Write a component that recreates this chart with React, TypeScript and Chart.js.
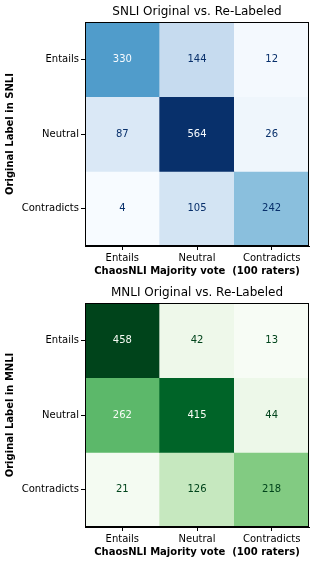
import React, { useEffect, useRef } from 'react';
import { Chart, registerables } from 'chart.js';

Chart.register(...registerables);

const predictedLabels = ['Entails', 'Neutral', 'Contradicts'];
const originalLabels = ['Entails', 'Neutral', 'Contradicts'];

const snliEntails = [330, 144, 12];
const snliNeutral = [87, 564, 26];
const snliContradicts = [4, 105, 242];

const mnliEntails = [458, 42, 13];
const mnliNeutral = [262, 415, 44];
const mnliContradicts = [21, 126, 218];

const bluesStops = ['#f7fbff', '#deebf7', '#c6dbef', '#9ecae1', '#6baed6', '#4292c6', '#2171b5', '#08519c', '#08306b'];
const greensStops = ['#f7fcf5', '#e5f5e0', '#c7e9c0', '#a1d99b', '#74c476', '#41ab5d', '#238b45', '#006d2c', '#00441b'];

const FONT = "'DejaVu Sans', sans-serif";

function hexToRgb(h: string) {
  const n = parseInt(h.slice(1), 16);
  return [(n >> 16) & 255, (n >> 8) & 255, n & 255];
}

function cmap(stops: string[], t: number) {
  const tt = Math.max(0, Math.min(1, t)) * (stops.length - 1);
  const i = Math.min(stops.length - 2, Math.floor(tt));
  const f = tt - i;
  const a = hexToRgb(stops[i]);
  const b = hexToRgb(stops[i + 1]);
  const c = a.map((v, k) => Math.round(v + (b[k] - v) * f));
  return `rgb(${c[0]},${c[1]},${c[2]})`;
}

type MatrixProps = {
  rows: number[][];
  title: string;
  yTitle: string;
  stops: string[];
  height: number;
  padBottom: number;
};

function Matrix({ rows, title, yTitle, stops, height, padBottom }: MatrixProps) {
  const ref = useRef<HTMLCanvasElement | null>(null);

  useEffect(() => {
    if (!ref.current) return;
    const all = rows.flat();
    const vmin = Math.min(...all);
    const vmax = Math.max(...all);
    const norm = (v: number) => (v - vmin) / (vmax - vmin);
    const thresh = (vmax + vmin) / 2;

    const datasets = rows.map((row, i) => ({
      label: originalLabels[i],
      data: row.map(() => [i, i + 1] as [number, number]),
      values: row,
      backgroundColor: row.map((v) => cmap(stops, norm(v))),
      borderWidth: 0,
      barPercentage: 1,
      categoryPercentage: 1,
      grouped: false,
    }));

    const cellText = {
      id: 'cellText',
      afterDatasetsDraw(chart: any) {
        const ctx = chart.ctx;
        ctx.save();
        ctx.font = `10px ${FONT}`;
        ctx.textAlign = 'center';
        ctx.textBaseline = 'middle';
        chart.data.datasets.forEach((ds: any, i: number) => {
          const meta = chart.getDatasetMeta(i);
          meta.data.forEach((el: any, j: number) => {
            const v = ds.values[j];
            const p = el.getCenterPoint();
            ctx.fillStyle = v > thresh ? stops[0] : stops[stops.length - 1];
            ctx.fillText(String(v), p.x, p.y);
          });
        });
        const a = chart.chartArea;
        ctx.strokeStyle = '#000';
        ctx.lineWidth = 1;
        ctx.strokeRect(Math.round(a.left) + 0.5, Math.round(a.top) + 0.5, Math.round(a.right - a.left) - 1, Math.round(a.bottom - a.top) - 1);
        ctx.restore();
      },
    };

    const chart = new Chart(ref.current, {
      type: 'bar',
      data: { labels: predictedLabels, datasets: datasets as any },
      options: {
        animation: false,
        responsive: false,
        maintainAspectRatio: false,
        layout: { padding: { left: 0, right: 6, top: 0, bottom: padBottom } },
        plugins: {
          legend: { display: false },
          tooltip: { enabled: false },
          title: { display: false },
        },
        scales: {
          top: {
            type: 'category',
            position: 'top',
            offset: true,
            afterFit: (s: any) => {
              s.height = 22;
            },
            grid: { display: false, drawTicks: false },
            border: { display: false },
            ticks: { display: false },
            title: {
              display: true,
              text: title,
              color: '#000',
              font: { family: FONT, size: 12, weight: 'normal' as any },
              padding: { top: 5, bottom: 0 },
            },
          },
          x: {
            type: 'category',
            position: 'bottom',
            offset: true,
            afterFit: (s: any) => {
              s.height = 35;
            },
            grid: { display: true, drawOnChartArea: false, drawTicks: true, tickLength: 4, color: '#000', offset: false },
            border: { display: true, color: '#000', width: 1 },
            ticks: { color: '#000', font: { family: FONT, size: 10 }, padding: 2, maxRotation: 0 },
            title: {
              display: true,
              text: 'ChaosNLI Majority vote  (100 raters)',
              color: '#000',
              font: { family: FONT, size: 10, weight: 'bold' as any },
              padding: { top: 0, bottom: 4 },
            },
          },
          y: {
            type: 'linear',
            min: 0,
            max: 3,
            reverse: true,
            afterFit: (s: any) => {
              s.width = 85;
            },
            afterBuildTicks: (s: any) => {
              s.ticks = [0.5, 1.5, 2.5].map((v) => ({ value: v }));
            },
            grid: { display: true, drawOnChartArea: false, drawTicks: true, tickLength: 4, color: '#000' },
            border: { display: true, color: '#000', width: 1 },
            ticks: {
              color: '#000',
              font: { family: FONT, size: 10 },
              padding: 2,
              callback: (_v: any, idx: number) => originalLabels[idx],
            },
            title: {
              display: true,
              text: yTitle,
              color: '#000',
              font: { family: FONT, size: 10, weight: 'bold' as any },
              padding: { top: 4, bottom: 0 },
            },
          },
        },
      },
      plugins: [cellText],
    });
    return () => chart.destroy();
  }, [rows, title, yTitle, stops, height, padBottom]);

  return <canvas ref={ref} width={315} height={height} style={{ display: 'block', width: 315, height }} />;
}

const snliRows = [snliEntails, snliNeutral, snliContradicts];
const mnliRows = [mnliEntails, mnliNeutral, mnliContradicts];

export default function App() {
  return (
    <div style={{ position: 'absolute', left: 0, top: 0, width: 315, height: 566, background: '#fff' }}>
      <Matrix rows={snliRows} title="SNLI Original vs. Re-Labeled" yTitle="Original Label in SNLI" stops={bluesStops} height={281} padBottom={0} />
      <Matrix rows={mnliRows} title="MNLI Original vs. Re-Labeled" yTitle="Original Label in MNLI" stops={greensStops} height={285} padBottom={4} />
    </div>
  );
}
